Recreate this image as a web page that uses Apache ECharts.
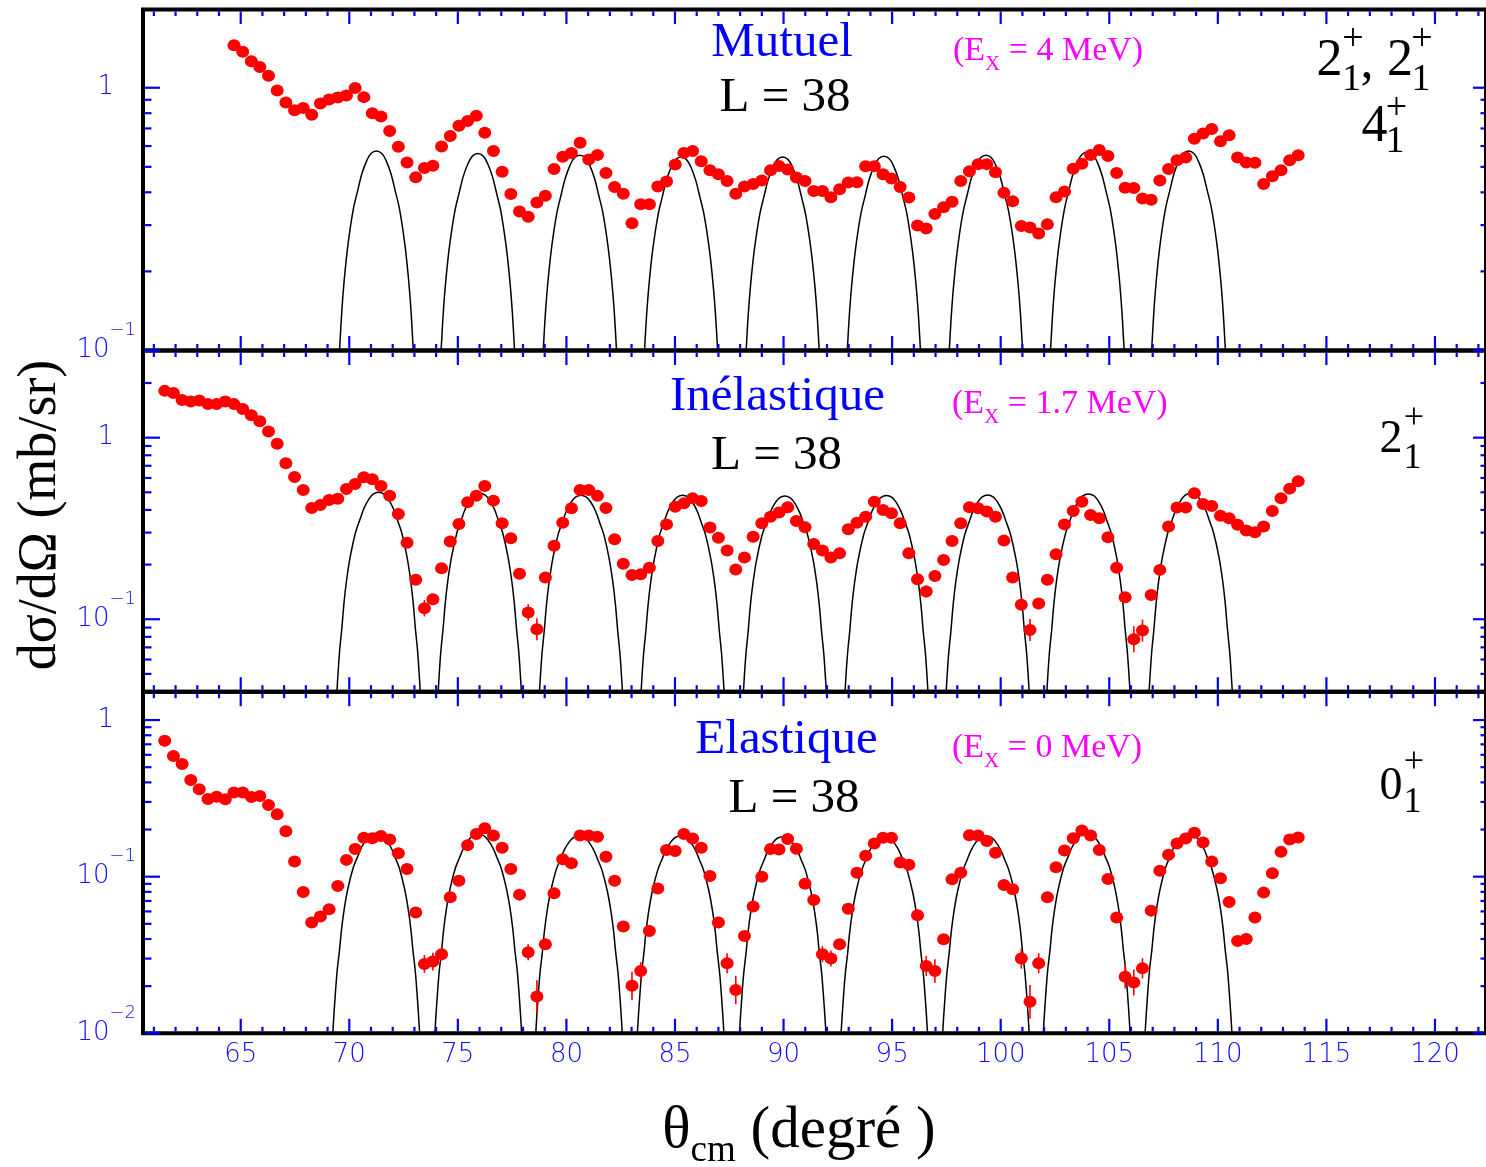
<!DOCTYPE html>
<html><head><meta charset="utf-8">
<script src="https://cdn.jsdelivr.net/npm/echarts@6/dist/echarts.min.js"></script>
<style>html,body{margin:0;padding:0;background:#fff;}#c{width:1486px;height:1167px;}</style>
</head><body><div id="c"></div>
<script>
// ---- measured angles (deg, c.m.) ----
const angles = [61.50,61.90,62.30,62.70,63.09,63.49,63.89,64.29,64.69,65.09,
65.49,65.88,66.28,66.68,67.08,67.48,67.88,68.27,68.67,69.07,
69.47,69.87,70.27,70.67,71.06,71.46,71.86,72.26,72.66,73.06,
73.46,73.85,74.25,74.65,75.05,75.45,75.85,76.24,76.64,77.04,
77.44,77.84,78.24,78.64,79.03,79.43,79.83,80.23,80.63,81.03,
81.43,81.82,82.22,82.62,83.02,83.42,83.82,84.21,84.61,85.01,
85.41,85.81,86.21,86.61,87.00,87.40,87.80,88.20,88.60,89.00,
89.40,89.79,90.19,90.59,90.99,91.39,91.79,92.18,92.58,92.98,
93.38,93.78,94.18,94.58,94.97,95.37,95.77,96.17,96.57,96.97,
97.37,97.76,98.16,98.56,98.96,99.36,99.76,100.15,100.55,100.95,
101.35,101.75,102.15,102.55,102.94,103.34,103.74,104.14,104.54,104.94,
105.34,105.73,106.13,106.53,106.93,107.33,107.73,108.12,108.52,108.92,
109.32,109.72,110.12,110.52,110.91,111.31,111.71,112.11,112.51,112.91,
113.31,113.70];

// ---- cross sections (mb/sr) ----
const mutuel = [null,null,null,null,null,null,null,null,
1.45,1.37,1.26,1.20,1.11,0.977,0.879,0.821,0.838,0.790,
0.871,0.902,0.918,0.935,0.997,0.921,0.800,0.777,0.684,0.596,
0.519,0.456,0.495,0.505,0.598,0.655,0.717,0.747,0.783,0.674,
0.575,0.479,0.394,0.338,0.323,0.366,0.388,0.491,0.546,0.565,
0.617,0.533,0.555,0.474,0.419,0.395,0.305,0.360,0.360,0.421,
0.440,0.510,0.565,0.574,0.525,0.485,0.469,0.442,0.395,0.421,
0.430,0.444,0.485,0.504,0.488,0.455,0.442,0.405,0.405,0.383,
0.411,0.436,0.437,0.503,0.503,0.469,0.451,0.419,0.382,0.299,
0.291,0.331,0.351,0.368,0.442,0.481,0.512,0.512,0.477,0.398,
0.370,0.298,0.294,0.279,0.302,0.383,0.403,0.492,0.514,0.555,
0.579,0.550,0.474,0.416,0.415,0.379,0.375,0.444,0.491,0.530,
0.543,0.640,0.670,0.696,0.625,0.659,0.543,0.519,0.518,0.430,
0.460,0.485,0.530,0.554];

const inelastique = [1.81,1.76,1.61,1.58,1.60,1.53,1.53,1.58,1.53,1.44,
1.33,1.23,1.08,0.927,0.723,0.608,0.515,0.410,0.426,0.454,
0.461,0.522,0.556,0.605,0.590,0.542,0.479,0.380,0.264,0.165,
0.115,0.129,0.191,0.268,0.335,0.441,0.479,0.542,0.450,0.338,
0.279,0.178,0.109,0.088,0.170,0.254,0.340,0.408,0.515,0.515,
0.478,0.410,0.276,0.202,0.175,0.177,0.192,0.270,0.333,0.417,
0.435,0.464,0.448,0.320,0.281,0.239,0.188,0.219,0.285,0.338,
0.367,0.387,0.414,0.348,0.321,0.260,0.239,0.219,0.231,0.313,
0.340,0.367,0.444,0.400,0.383,0.338,0.231,0.166,0.142,0.173,
0.212,0.270,0.338,0.414,0.408,0.392,0.367,0.271,0.170,0.120,
0.0873,0.122,0.165,0.228,0.333,0.395,0.444,0.375,0.360,0.283,
0.192,0.132,0.0776,0.0866,0.136,0.187,0.324,0.412,0.412,0.494,
0.431,0.421,0.371,0.360,0.331,0.308,0.301,0.324,0.395,0.464,
0.524,0.575];

const elastique = [0.738,0.589,0.524,0.414,0.361,0.313,0.324,0.312,0.345,0.345,
0.323,0.327,0.287,0.250,0.195,0.125,0.0799,0.0509,0.0556,0.0619,
0.0872,0.128,0.150,0.177,0.176,0.182,0.173,0.141,0.112,0.0590,
0.0277,0.0287,0.0320,0.0738,0.0943,0.159,0.187,0.204,0.183,0.153,
0.112,0.0768,0.0329,0.0172,0.0370,0.0783,0.129,0.122,0.183,0.183,
0.180,0.134,0.0943,0.0480,0.0201,0.0250,0.0450,0.0839,0.148,0.146,
0.187,0.175,0.153,0.101,0.0509,0.0280,0.0189,0.0418,0.0644,0.100,
0.150,0.149,0.174,0.151,0.0902,0.0710,0.0320,0.0300,0.0370,0.0625,
0.106,0.136,0.163,0.177,0.177,0.123,0.119,0.0567,0.0269,0.0250,
0.0398,0.0962,0.106,0.184,0.183,0.169,0.142,0.0885,0.0831,0.0300,
0.0159,0.0280,0.0738,0.115,0.147,0.176,0.197,0.183,0.148,0.0967,
0.0548,0.0230,0.0211,0.0260,0.0607,0.109,0.138,0.163,0.175,0.191,
0.165,0.125,0.0976,0.0690,0.0389,0.0400,0.0548,0.0791,0.105,0.144,
0.173,0.178];

// error bars: [point index, multiplicative half-width]
const inelastiqueErr = [[30,1.11],[31,1.065],[42,1.11],[43,1.15],[88,1.08],[99,1.065],[100,1.15],[101,1.065],[111,1.065],[112,1.18],[113,1.15],[114,1.05]];
const elastiqueErr = [[30,1.14],[31,1.14],[32,1.10],[42,1.125],[43,1.27],[44,1.076],[54,1.23],[55,1.14],[65,1.16],[66,1.23],[76,1.125],[77,1.125],[88,1.16],[89,1.19],[99,1.16],[100,1.28],[101,1.16],[111,1.19],[112,1.21],[113,1.16]];

// theory (L = 38): arc centres, arc peak values, and the arc profile
const mutuelArcCenters = [71.25,75.92,80.62,85.28,89.96,94.62,99.32,103.99,108.65];
const mutuelArcPeaks   = [0.575,0.562,0.554,0.545,0.545,0.549,0.554,0.570,0.575];
const inelArcCenters   = [71.35,76.01,80.67,85.35,90.06,94.74,99.40,104.04,108.75];
const inelArcPeaks     = [0.500,0.494,0.482,0.482,0.477,0.480,0.483,0.490,0.494];
const elasArcCenters   = [71.24,75.94,80.58,85.26,89.96,94.64,99.32,103.96,108.65];
const elasArcPeaks     = [0.189,0.187,0.182,0.182,0.180,0.180,0.182,0.189,0.189];
const arcOffsets = [0, 0.25, 0.44, 0.67, 0.86, 1.06, 1.30, 1.47, 1.59, 1.69, 1.80, 1.90, 1.98, 2.10];
const arcDrops   = [0, 0.010, 0.036, 0.087, 0.150, 0.220, 0.350, 0.480, 0.605, 0.745, 0.880, 1.060, 1.230, 1.550];

// axes
const xMin = 60.5, xMax = 122.35;
const xMajorTicks = [65,70,75,80,85,90,95,100,105,110,115,120];
const xMinorTicks = [61,62,63,64,66,67,68,69,71,72,73,74,76,77,78,79,81,82,83,84,86,87,88,89,91,92,93,94,96,97,98,99,101,102,103,104,106,107,108,109,111,112,113,114,116,117,118,119,121,122];
const yMin = [0.1, 0.0399, 0.01];
const yMax = [1.985, 3.02, 1.517];
const yMajorTicks = [[0.1,1],[0.1,1],[0.01,0.1,1]];
const yMinorTicks = [
  [0.2,0.3,0.4,0.5,0.6,0.7,0.8,0.9],
  [0.05,0.06,0.07,0.08,0.09,0.2,0.3,0.4,0.5,0.6,0.7,0.8,0.9,2,3],
  [0.02,0.03,0.04,0.05,0.06,0.07,0.08,0.09,0.2,0.3,0.4,0.5,0.6,0.7,0.8,0.9]
];

const SERIF = '"Liberation Serif","Times New Roman",serif';
const SANS = '"DejaVu Sans","Liberation Sans",Arial,sans-serif';
const BLUE = '#0000ff';
const LBLUE = '#1010ff';

const gridTop = [9.5, 350.5, 691.7];
const gridH = [341, 341.2, 341.6];

function pts(vals) {
  const out = [];
  vals.forEach((v, i) => { if (v != null) out.push([angles[i], v]); });
  return out;
}
function errs(vals, list) {
  return list.map(([i, f]) => [angles[i], vals[i] / f, vals[i] * f]);
}
function arcLine(centers, peaks) {
  const out = [];
  centers.forEach((c, k) => {
    for (let j = arcOffsets.length - 1; j >= 1; j--) out.push([c - arcOffsets[j], peaks[k] * Math.pow(10, -arcDrops[j])]);
    for (let j = 0; j < arcOffsets.length; j++) out.push([c + arcOffsets[j], peaks[k] * Math.pow(10, -arcDrops[j])]);
    out.push([c + 2.3, '-']);
  });
  return out;
}
function tickData(g) {
  const d = [];
  xMajorTicks.forEach(v => d.push([v, 0.5, 0]));
  xMinorTicks.forEach(v => d.push([v, 0.5, 1]));
  yMajorTicks[g].forEach(v => d.push([90, v, 2]));
  yMinorTicks[g].forEach(v => d.push([90, v, 3]));
  return d;
}
function tickRender(params, api) {
  const cs = params.coordSys;
  const kind = api.value(2);
  const st = { stroke: BLUE, lineWidth: 2.2 };
  const p = api.coord([api.value(0), api.value(1)]);
  if (kind <= 1) {
    const len = kind === 0 ? 12.5 : 4.5;
    const b = cs.y + cs.height;
    return { type: 'group', children: [
      { type: 'line', shape: { x1: p[0], y1: b - 2, x2: p[0], y2: b - 2 - len }, style: st },
      { type: 'line', shape: { x1: p[0], y1: cs.y + 2, x2: p[0], y2: cs.y + 2 + len }, style: st }
    ]};
  }
  const lenL = kind === 2 ? 15 : 6.5, lenR = kind === 2 ? 11 : 3.5;
  const r = cs.x + cs.width;
  return { type: 'group', children: [
    { type: 'line', shape: { x1: cs.x + 2, y1: p[1], x2: cs.x + 2 + lenL, y2: p[1] }, style: st },
    { type: 'line', shape: { x1: r - 2, y1: p[1], x2: r - 2 - lenR, y2: p[1] }, style: st }
  ]};
}
function errRender(params, api) {
  const a = api.coord([api.value(0), api.value(1)]);
  const b = api.coord([api.value(0), api.value(2)]);
  return { type: 'line', shape: { x1: a[0], y1: a[1], x2: b[0], y2: b[1] }, style: { stroke: '#ff0000', lineWidth: 1.6 } };
}

function yLabel(v) {
  const l = Math.log10(v), e = Math.round(l);
  if (Math.abs(l - e) > 1e-6) return '';
  if (e === 0) return '{o|1}';
  return '{b|10}{s|' + (e < 0 ? '\u2212' : '') + Math.abs(e) + '}';
}

const grids = [], xAxes = [], yAxes = [], series = [];
const sets = [
  { vals: mutuel, err: [], c: mutuelArcCenters, p: mutuelArcPeaks },
  { vals: inelastique, err: inelastiqueErr, c: inelArcCenters, p: inelArcPeaks },
  { vals: elastique, err: elastiqueErr, c: elasArcCenters, p: elasArcPeaks }
];
for (let g = 0; g < 3; g++) {
  grids.push({ left: 143, top: gridTop[g], width: 1345, height: gridH[g], show: true, borderColor: '#000', borderWidth: 4, backgroundColor: 'transparent' });
  xAxes.push({
    type: 'value', gridIndex: g, min: xMin, max: xMax, splitNumber: 12,
    axisLine: { show: false }, axisTick: { show: false }, splitLine: { show: false },
    axisLabel: {
      show: g === 2, margin: 9, color: LBLUE, fontSize: 26, fontWeight: 200, fontFamily: SANS,
      customValues: xMajorTicks,
      formatter: v => (Math.abs(v - Math.round(v)) < 1e-6 && Math.round(v) % 5 === 0) ? String(Math.round(v)) : ''
    }
  });
  yAxes.push({
    type: 'log', logBase: 10, gridIndex: g, min: yMin[g], max: yMax[g],
    axisLine: { show: false }, axisTick: { show: false }, splitLine: { show: false },
    axisLabel: {
      margin: 7, formatter: yLabel,
      rich: {
        b: { fontSize: 26, fontWeight: 200, fontFamily: SANS, color: LBLUE, padding: [16, 0, 16, 0], verticalAlign: 'middle' },
        s: { fontSize: 18, fontWeight: 200, fontFamily: SANS, color: LBLUE, lineHeight: 18, verticalAlign: 'top' },
        o: { fontSize: 26, fontWeight: 200, fontFamily: SANS, color: LBLUE, padding: [0, 22, 0, 0] }
      }
    }
  });
  const s = sets[g];
  series.push({ type: 'line', xAxisIndex: g, yAxisIndex: g, data: arcLine(s.c, s.p), showSymbol: false, symbol: 'none', smooth: 0.35, clip: true, connectNulls: false, lineStyle: { color: '#000', width: 1.5 }, z: 2, silent: true });
  if (s.err.length) series.push({ type: 'custom', xAxisIndex: g, yAxisIndex: g, data: errs(s.vals, s.err), renderItem: errRender, encode: { x: 0, y: [1, 2] }, z: 3, silent: true });
  series.push({ type: 'scatter', xAxisIndex: g, yAxisIndex: g, data: pts(s.vals), symbol: 'circle', symbolSize: [13, 12], itemStyle: { color: '#ff0000', opacity: 1 }, z: 4, silent: true });
  series.push({ type: 'custom', xAxisIndex: g, yAxisIndex: g, data: tickData(g), renderItem: tickRender, encode: { x: 0, y: 1 }, z: 5, silent: true });
}

function txt(x, y, text, size, color, align) {
  return { type: 'text', x: x, y: y, z: 10, style: { text: text, fontSize: size, fontFamily: SERIF, fill: color, align: align || 'center', verticalAlign: 'middle' } };
}
function exText(x, y, rest) {
  return { type: 'text', x: x, y: y, z: 10, style: {
    text: '{a|(E}{x|X}{a| = ' + rest + ')}', align: 'left', verticalAlign: 'middle',
    rich: {
      a: { fontSize: 34, fontFamily: SERIF, fill: '#ff00ff', color: '#ff00ff', lineHeight: 34, verticalAlign: 'top' },
      x: { fontSize: 21, fontFamily: SERIF, fill: '#ff00ff', color: '#ff00ff', lineHeight: 21, padding: [20, 0, 0, 0], verticalAlign: 'top' }
    }
  }};
}

const graphic = [
  // axis titles
  { type: 'text', x: 41, y: 515, rotation: Math.PI / 2, z: 10, style: { text: 'd\u03c3/d\u03a9 (mb/sr)', fontSize: 54, fontFamily: SERIF, fill: '#000', align: 'center', verticalAlign: 'middle' } },
  { type: 'text', x: 799, y: 1131, z: 10, style: {
    text: '{t|\u03b8}{s|cm}{t| (degr\u00e9 )}', align: 'center', verticalAlign: 'middle',
    rich: {
      t: { fontSize: 59, fontFamily: SERIF, fill: '#000', color: '#000', lineHeight: 59, verticalAlign: 'top' },
      s: { fontSize: 37, fontFamily: SERIF, fill: '#000', color: '#000', lineHeight: 37, padding: [31, 0, 0, 0], verticalAlign: 'top' }
    }
  }},
  // panel 1
  txt(782, 43, 'Mutuel', 49, BLUE),
  txt(785, 98, 'L = 38', 49, '#000'),
  exText(953, 51, '4 MeV'),
  txt(1329.5, 61, '2', 52, '#000'), txt(1351.5, 80, '1', 38, '#000'), txt(1353, 40, '+', 38, '#000'),
  txt(1367, 63, ',', 52, '#000'),
  txt(1400, 61, '2', 52, '#000'), txt(1421, 80, '1', 38, '#000'), txt(1422, 40, '+', 38, '#000'),
  txt(1374.5, 127, '4', 52, '#000'), txt(1395, 142, '1', 38, '#000'), txt(1396.5, 109, '+', 38, '#000'),
  // panel 2
  txt(777.5, 397, 'In\u00e9lastique', 49, BLUE),
  txt(776.5, 456, 'L = 38', 49, '#000'),
  exText(952, 404, '1.7 MeV'),
  txt(1391, 440, '2', 46, '#000'), txt(1412.5, 459, '1', 36, '#000'), txt(1414, 419, '+', 36, '#000'),
  // panel 3
  txt(786.5, 740, 'Elastique', 49, BLUE),
  txt(794, 799, 'L = 38', 49, '#000'),
  exText(952, 748, '0 MeV'),
  txt(1391, 787, '0', 46, '#000'), txt(1412.5, 803, '1', 36, '#000'), txt(1414, 763, '+', 36, '#000')
];

const chart = echarts.init(document.getElementById('c'), null, { renderer: 'canvas' });
chart.setOption({
  animation: false,
  backgroundColor: '#fff',
  grid: grids, xAxis: xAxes, yAxis: yAxes, series: series, graphic: graphic
});
</script></body></html>
